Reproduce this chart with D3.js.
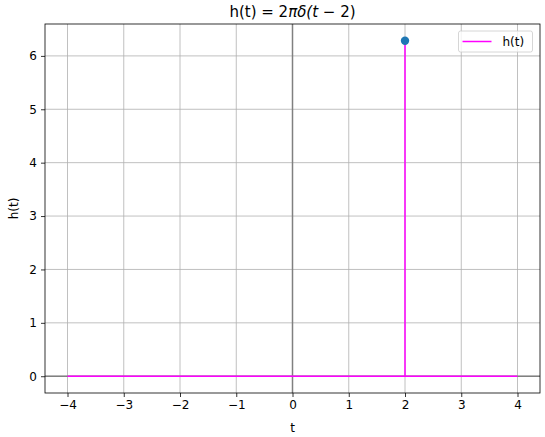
<!DOCTYPE html>
<html>
<head>
<meta charset="utf-8">
<script src="https://cdn.jsdelivr.net/npm/d3@7"></script>
<style>
  body { margin: 0; background: #fff; }
  svg text { font-family: "DejaVu Sans", sans-serif; fill: #000; }
</style>
</head>
<body>
<svg class="chart" width="545" height="437"></svg>
<script>
// data
const tValues = [-4, 2, 2, 2, 4];
const hValues = [0, 0, 2 * Math.PI, 0, 0];
const impulseT = [2];
const impulseH = [2 * Math.PI];
const xTicks = [-4, -3, -2, -1, 0, 1, 2, 3, 4];
const yTicks = [0, 1, 2, 3, 4, 5, 6];

// layout
const plotLeft = 45, plotRight = 540, plotTop = 24, plotBottom = 393;
const fontSize = "12px";

const svg = d3.select("svg.chart");

const x = d3.scaleLinear().domain([-4.4, 4.4]).range([plotLeft, plotRight]);
const yMin = -0.05 * 2 * Math.PI, yMax = 2 * Math.PI * 1.05;
const y = d3.scaleLinear().domain([yMin, yMax]).range([plotBottom, plotTop]);

// grid
svg.append("g")
    .selectAll("line")
    .data(xTicks)
    .join("line")
    .attr("x1", d => x(d)).attr("x2", d => x(d))
    .attr("y1", plotTop).attr("y2", plotBottom)
    .attr("stroke", "#b0b0b0").attr("stroke-width", 0.8);

svg.append("g")
    .selectAll("line")
    .data(yTicks)
    .join("line")
    .attr("x1", plotLeft).attr("x2", plotRight)
    .attr("y1", d => y(d)).attr("y2", d => y(d))
    .attr("stroke", "#b0b0b0").attr("stroke-width", 0.8);

// zero lines
svg.append("line")
    .attr("x1", plotLeft).attr("x2", plotRight)
    .attr("y1", y(0)).attr("y2", y(0))
    .attr("stroke", "#808080").attr("stroke-width", 1.5);
svg.append("line")
    .attr("x1", x(0)).attr("x2", x(0))
    .attr("y1", plotTop).attr("y2", plotBottom)
    .attr("stroke", "#808080").attr("stroke-width", 1.5);

// signal
const line = d3.line().x(d => x(d[0])).y(d => y(d[1]));
svg.append("path")
    .datum(tValues.map((t, i) => [t, hValues[i]]))
    .attr("d", line)
    .attr("fill", "none")
    .attr("stroke", "#ff00ff")
    .attr("stroke-width", 1.5);

svg.append("g")
    .selectAll("circle")
    .data(impulseT)
    .join("circle")
    .attr("cx", d => x(d))
    .attr("cy", (d, i) => y(impulseH[i]))
    .attr("r", 4.2)
    .attr("fill", "#1f77b4");

// axes
const fmt = d => d < 0 ? "\u2212" + Math.abs(d) : String(d);
const xAxis = d3.axisBottom(x).tickValues(xTicks).tickSize(4).tickPadding(3).tickFormat(fmt);
const gx = svg.append("g").attr("transform", `translate(0,${plotBottom})`).call(xAxis);
const yAxis = d3.axisLeft(y).tickValues(yTicks).tickSize(4).tickPadding(4).tickFormat(fmt);
const gy = svg.append("g").attr("transform", `translate(${plotLeft},0)`).call(yAxis);
[gx, gy].forEach(g => {
    g.select(".domain").remove();
    g.selectAll(".tick line").attr("stroke", "#000").attr("stroke-width", 0.8);
    g.selectAll("text").style("font-size", fontSize).attr("fill", "#000")
        .style("font-family", "DejaVu Sans, sans-serif");
});

// frame
svg.append("rect")
    .attr("x", plotLeft).attr("y", plotTop)
    .attr("width", plotRight - plotLeft).attr("height", plotBottom - plotTop)
    .attr("fill", "none").attr("stroke", "#000").attr("stroke-width", 0.8);

// labels
svg.append("text")
    .attr("x", (plotLeft + plotRight) / 2).attr("y", 432)
    .attr("text-anchor", "middle").style("font-size", fontSize)
    .text("t");
svg.append("text")
    .attr("transform", `translate(18,${(plotTop + plotBottom) / 2}) rotate(-90)`)
    .attr("text-anchor", "middle").style("font-size", fontSize)
    .text("h(t)");

const title = svg.append("text")
    .attr("x", (plotLeft + plotRight) / 2).attr("y", 17)
    .attr("text-anchor", "middle").style("font-size", "15px");
title.append("tspan").text("h(t) = 2");
title.append("tspan").style("font-style", "italic").text("\u03c0\u03b4(t");
title.append("tspan").text(" \u2212 2)");

// legend
const lg = svg.append("g").attr("transform", "translate(458.5,31)");
lg.append("rect")
    .attr("width", 74).attr("height", 21).attr("rx", 2)
    .attr("fill", "#fff").attr("fill-opacity", 0.8)
    .attr("stroke", "#cccccc").attr("stroke-width", 0.8);
lg.append("line")
    .attr("x1", 4).attr("x2", 33).attr("y1", 10.5).attr("y2", 10.5)
    .attr("stroke", "#ff00ff").attr("stroke-width", 1.5);
lg.append("text")
    .attr("x", 44).attr("y", 15)
    .style("font-size", fontSize)
    .text("h(t)");
</script>
</body>
</html>
